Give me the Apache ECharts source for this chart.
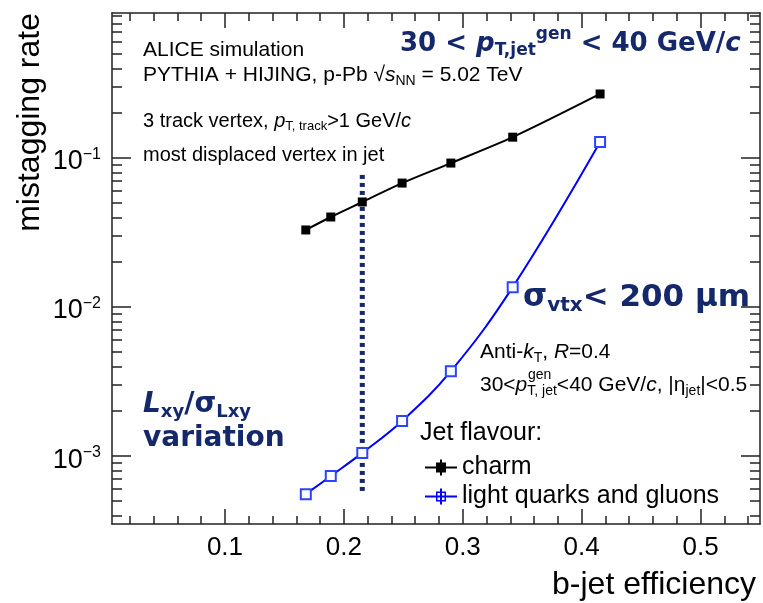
<!DOCTYPE html>
<html>
<head>
<meta charset="utf-8">
<script src="https://cdn.jsdelivr.net/npm/echarts@6/dist/echarts.min.js"></script>
<style>
html, body { margin: 0; padding: 0; background: #fff; }
#chart { width: 763px; height: 603px; }
</style>
</head>
<body>
<div id="chart"></div>
<script>
// values
const bJetEff = [0.168, 0.189, 0.2155, 0.249, 0.290, 0.342, 0.4155];
const charmRate = [0.0329, 0.0402, 0.0507, 0.0679, 0.0925, 0.138, 0.269];
const lightRate = [0.000555, 0.000734, 0.00105, 0.00172, 0.00371, 0.0136, 0.128];
const cutEff = [0.2155, 0.2155];
const cutRate = [0.077, 0.00058];

// ticks
const xMajorTicks = [0.1, 0.2, 0.3, 0.4, 0.5];
const xMinorTicks = [0.02, 0.04, 0.06, 0.08, 0.12, 0.14, 0.16, 0.18, 0.22, 0.24, 0.26, 0.28,
  0.32, 0.34, 0.36, 0.38, 0.42, 0.44, 0.46, 0.48, 0.52, 0.54];
const yMajorTicks = [1e-3, 1e-2, 1e-1];
const yMinorTicks = [4e-4, 5e-4, 6e-4, 7e-4, 8e-4, 9e-4,
  2e-3, 3e-3, 4e-3, 5e-3, 6e-3, 7e-3, 8e-3, 9e-3,
  2e-2, 3e-2, 4e-2, 5e-2, 6e-2, 7e-2, 8e-2, 9e-2,
  0.2, 0.3, 0.4, 0.5, 0.6, 0.7, 0.8, 0.9];

const ink = '#14286b';
const frame = '#222';
const font = 'Liberation Sans';
const boldFont = 'DejaVu Sans';

const chart = echarts.init(document.getElementById('chart'));

const zip = (xs, ys) => xs.map((x, i) => [x, ys[i]]);

function xAxisFor(position, ticks, len, main) {
  return {
    type: 'value', position, min: 0.005, max: 0.55,
    axisLine: { show: main, onZero: false, lineStyle: { color: frame, width: 1.5 } },
    axisTick: { show: true, inside: true, length: len, customValues: ticks, lineStyle: { color: frame, width: 1.5 } },
    axisLabel: main && position === 'bottom'
      ? { show: true, customValues: ticks, fontSize: 26, color: '#000', fontFamily: font, margin: 11 }
      : { show: false },
    splitLine: { show: false }
  };
}

function yAxisFor(position, ticks, len, main) {
  return {
    type: 'log', logBase: 10, position, min: 3.5e-4, max: 0.94,
    axisLine: { show: main, onZero: false, lineStyle: { color: frame, width: 1.5 } },
    axisTick: { show: true, inside: true, length: len, customValues: ticks, lineStyle: { color: frame, width: 1.5 } },
    axisLabel: main && position === 'left'
      ? {
          show: true, customValues: ticks, margin: 11, color: '#000', fontFamily: font,
          formatter: v => '{b|10}{s|\u2212' + Math.round(-Math.log10(v)) + '}',
          rich: {
            b: { fontSize: 27, lineHeight: 30, fontFamily: font, color: '#000', padding: [8, 0, 0, 0] },
            s: { fontSize: 16, lineHeight: 30, fontFamily: font, color: '#000', padding: [0, 0, 6, 0] }
          }
        }
      : { show: false },
    splitLine: { show: false }
  };
}

function richFor(size, bold) {
  const f = bold ? boldFont : font;
  const w = bold ? 'bold' : 'normal';
  return {
    i: { fontStyle: 'italic', fontWeight: w, fontFamily: f, fontSize: size, lineHeight: size },
    sub: { fontSize: Math.round(size * 0.65), fontWeight: w, fontFamily: f, lineHeight: size, padding: [Math.round(size * 0.5), 0, 0, 0] },
    sup: { fontSize: Math.round(size * 0.65), fontWeight: w, fontFamily: f, lineHeight: size, padding: [0, 0, Math.round(size * 0.7), 0] }
  };
}

function note(left, top, text, size, bold) {
  return {
    left, top, text, padding: 0,
    textStyle: {
      fontSize: size, lineHeight: size, fontFamily: bold ? boldFont : font,
      fontWeight: bold ? 'bold' : 'normal', color: bold ? ink : '#000',
      rich: richFor(size, bold)
    }
  };
}

const option = {
  animation: false,
  textStyle: { fontFamily: font },
  grid: { left: 112, right: 3, top: 13, bottom: 79, containLabel: false, outerBoundsMode: 'none' },
  title: [
    note(143, 40, 'ALICE simulation', 21),
    note(143, 65, 'PYTHIA + HIJING, p-Pb \u221A{i|s}{sub|NN} = 5.02 TeV', 21),
    note(143, 111, '3 track vertex, {i|p}{sub|T, track}>1 GeV/{i|c}', 20),
    note(143, 145, 'most displaced vertex in jet', 20),
    note(400, 31, '30 < {i|p}{sub|T,jet}{sup|gen} < 40 GeV/{i|c}', 26, true),
    note(523, 282, '\u03C3{sub|vtx}< 200 \u03BCm', 31, true),
    note(143, 391, '{i|L}{sub|xy}/\u03C3{sub|Lxy}', 28, true),
    note(143, 425, 'variation', 28, true),
    note(480, 342, 'Anti-{i|k}{sub|T}, {i|R}=0.4', 21),
    note(480, 375, '30<{i|p}{sub|T, jet}<40 GeV/{i|c}, |\u03B7{sub|jet}|<0.5', 21),
    note(528, 368, 'gen', 14),
    note(420, 421, 'Jet flavour:', 25)
  ],
  legend: {
    left: 420, top: 450, orient: 'vertical',
    itemWidth: 32, itemHeight: 16, itemGap: 4,
    textStyle: { fontSize: 25, lineHeight: 25, color: '#000', fontFamily: font },
    data: [
      { name: 'charm', icon: 'path://M0 7H32V9H0Z M11 3H21V13H11Z M15 0H17V16H15Z', itemStyle: { color: '#000', borderWidth: 0 } },
      { name: 'light quarks and gluons', icon: 'path://M0 7H32V9H0Z M15 0H17V16H15Z M11 3H21V13H11Z M12.5 4.5V11.5H19.5V4.5Z', itemStyle: { color: '#0000ff', borderWidth: 0 } }
    ]
  },
  xAxis: [
    xAxisFor('bottom', xMajorTicks, 15, true),
    xAxisFor('bottom', xMinorTicks, 8, false),
    xAxisFor('top', xMajorTicks, 15, true),
    xAxisFor('top', xMinorTicks, 8, false)
  ],
  yAxis: [
    yAxisFor('left', yMajorTicks, 19, true),
    yAxisFor('left', yMinorTicks, 10, false),
    yAxisFor('right', yMajorTicks, 19, true),
    yAxisFor('right', yMinorTicks, 10, false)
  ],
  series: [
    {
      name: 'cut', type: 'line', data: zip(cutEff, cutRate), symbol: 'none', silent: true,
      lineStyle: { color: ink, width: 5, type: [4, 4], cap: 'butt' }, z: 1
    },
    {
      name: 'charm', type: 'line', data: zip(bJetEff, charmRate), smooth: 0.3,
      symbol: 'rect', symbolSize: 9,
      lineStyle: { color: '#000', width: 2 }, itemStyle: { color: '#000' }, z: 3
    },
    {
      name: 'light quarks and gluons', type: 'line', data: zip(bJetEff, lightRate), smooth: 0.4,
      symbol: 'emptyRect', symbolSize: 10,
      lineStyle: { color: '#0000ff', width: 2 }, itemStyle: { color: '#2a44ff', borderWidth: 1.3 }, z: 3
    }
  ],
  graphic: [
    {
      type: 'text', x: 30, y: 13, rotation: Math.PI / 2,
      style: { text: 'mistagging rate', font: '32px "Liberation Sans"', fill: '#000', align: 'right', verticalAlign: 'middle' }
    },
    {
      type: 'text', x: 756, y: 585,
      style: { text: 'b-jet efficiency', font: '32px "Liberation Sans"', fill: '#000', align: 'right', verticalAlign: 'middle' }
    }
  ]
};

chart.setOption(option);
</script>
</body>
</html>
